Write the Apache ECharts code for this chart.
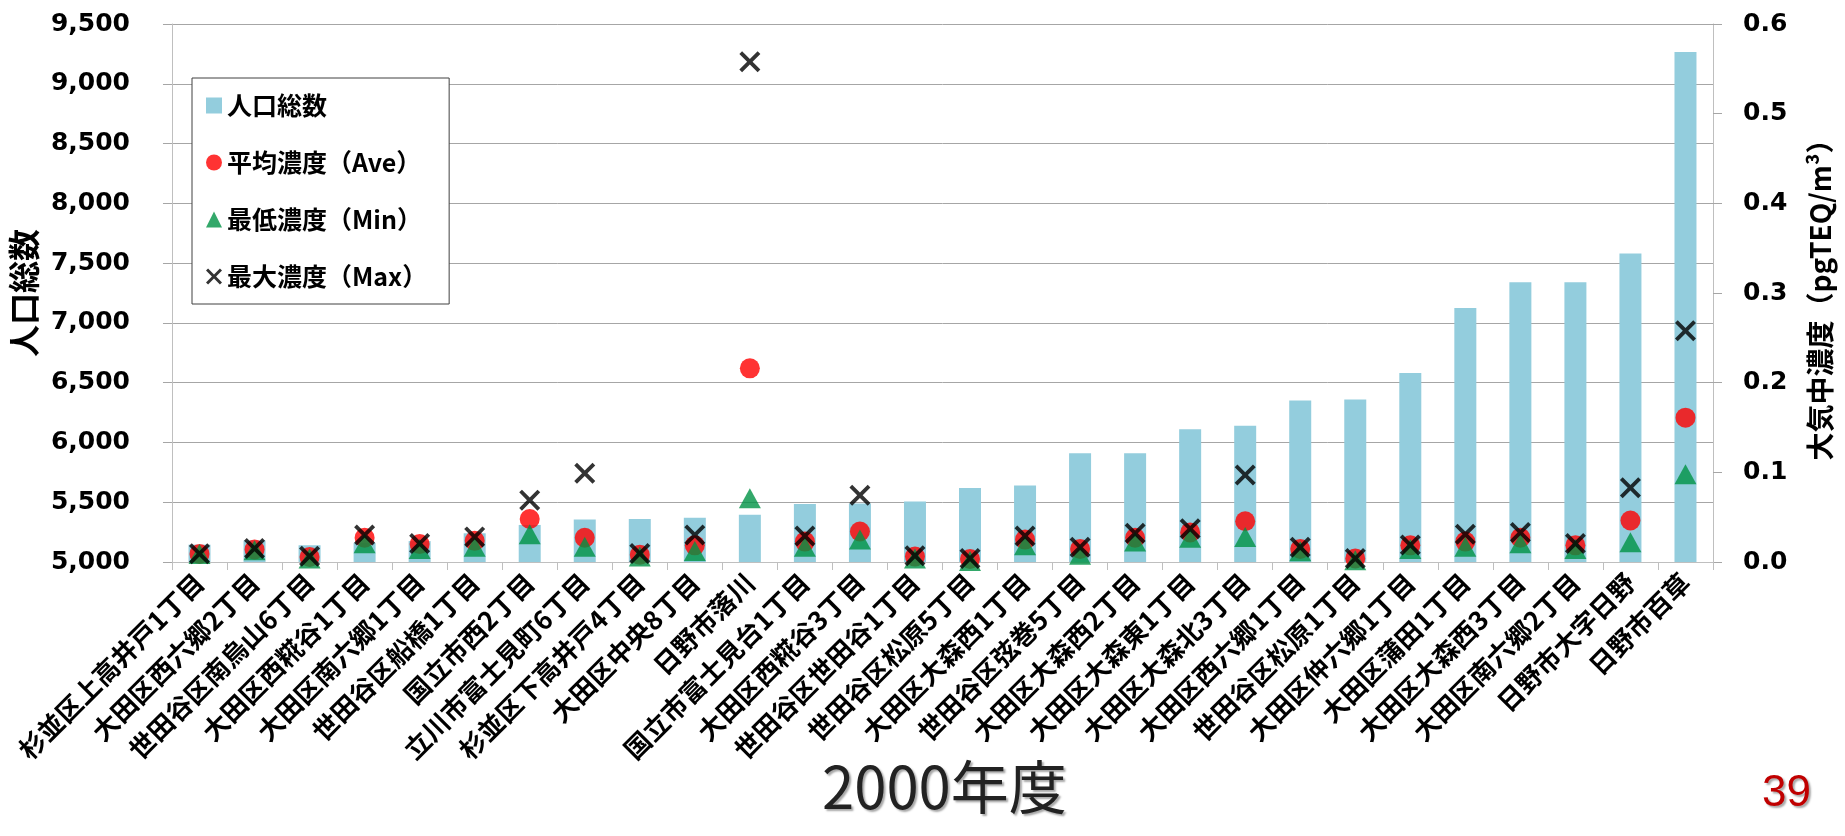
<!DOCTYPE html>
<html>
<head>
<meta charset="utf-8">
<script src="https://cdn.jsdelivr.net/npm/echarts@6/dist/echarts.min.js"></script>
<style>
  html, body { margin: 0; padding: 0; background: #fff; }
  #main { width: 1845px; height: 836px; }
</style>
</head>
<body>
<div id="main"></div>
<script>
// 地点（人口総数の少ない順）
var categories = [
  '杉並区上高井戸1丁目', '大田区西六郷2丁目', '世田谷区南烏山6丁目', '大田区西糀谷1丁目',
  '大田区南六郷1丁目', '世田谷区船橋1丁目', '国立市西2丁目', '立川市富士見町6丁目',
  '杉並区下高井戸4丁目', '大田区中央8丁目', '日野市落川', '国立市富士見台1丁目',
  '大田区西糀谷3丁目', '世田谷区世田谷1丁目', '世田谷区松原5丁目', '大田区大森西1丁目',
  '世田谷区弦巻5丁目', '大田区大森西2丁目', '大田区大森東1丁目', '大田区大森北3丁目',
  '大田区西六郷1丁目', '世田谷区松原1丁目', '大田区仲六郷1丁目', '大田区蒲田1丁目',
  '大田区大森西3丁目', '大田区南六郷2丁目', '日野市大字日野', '日野市百草'
];

// 人口総数（左軸）
var population = [
  5145, 5180, 5140, 5160, 5175, 5240, 5310, 5355, 5360, 5370,
  5395, 5485, 5490, 5505, 5620, 5640, 5910, 5910, 6110, 6140,
  6350, 6360, 6580, 7125, 7340, 7340, 7580, 9265
];

// 大気中濃度 pgTEQ/m3（右軸）
var aveConc = [
  0.009, 0.014, 0.0056, 0.027, 0.020, 0.0236, 0.048, 0.027, 0.008, 0.0186,
  0.216, 0.0228, 0.034, 0.006, 0.0033, 0.025, 0.0145, 0.027, 0.033, 0.0455,
  0.0145, 0.004, 0.0186, 0.0228, 0.027, 0.0186, 0.0463, 0.161
];
var minConc = [
  0.009, 0.013, 0.004, 0.021, 0.0145, 0.017, 0.031, 0.017, 0.006, 0.0124,
  0.071, 0.017, 0.025, 0.004, 0.001, 0.0186, 0.008, 0.023, 0.027, 0.028,
  0.012, 0.002, 0.0145, 0.017, 0.021, 0.0145, 0.022, 0.098
];
var maxConc = [
  0.0093, 0.015, 0.0063, 0.030, 0.0207, 0.028, 0.069, 0.099, 0.0095, 0.030,
  0.558, 0.029, 0.0745, 0.007, 0.004, 0.029, 0.0165, 0.032, 0.037, 0.097,
  0.0165, 0.004, 0.019, 0.031, 0.033, 0.0207, 0.0827, 0.258
];

var leftTicks = { min: 5000, max: 9500, interval: 500 };
var rightTicks = { min: 0, max: 0.6, interval: 0.1 };

// ×印（塗りつぶしの多角形）
var crossPath = 'path://M0,2.6L2.6,0L10,7.4L17.4,0L20,2.6L12.6,10L20,17.4L17.4,20L10,12.6L2.6,20L0,17.4L7.4,10Z';

var cjk = '"Noto Sans CJK JP", "Noto Sans", sans-serif';
var num = '"DejaVu Sans", "Noto Sans", sans-serif';

var chart = echarts.init(document.getElementById('main'), null, { renderer: 'canvas' });

var option = {
  animation: false,
  backgroundColor: '#ffffff',
  grid: {
    left: 167,
    right: 132,
    top: 24,
    bottom: 274
  },
  legend: {
    orient: 'vertical',
    left: 192,
    top: 78,
    itemWidth: 16,
    itemHeight: 16,
    itemGap: 32,
    padding: [15, 22, 15, 14],
    borderColor: '#404040',
    borderWidth: 1,
    backgroundColor: '#ffffff',
    textStyle: {
      fontFamily: cjk,
      fontSize: 25,
      fontWeight: 'bold',
      color: '#000',
      lineHeight: 24
    },
    data: [
      { name: '人口総数', icon: 'rect' },
      { name: '平均濃度（Ave）' },
      { name: '最低濃度（Min）' },
      { name: '最大濃度（Max）' }
    ]
  },
  xAxis: {
    type: 'category',
    data: categories,
    axisLine: { lineStyle: { color: '#BFBFBF', width: 1 } },
    axisTick: { show: true, length: 8, lineStyle: { color: '#BFBFBF' } },
    axisLabel: {
      interval: 0,
      rotate: 45,
      margin: 16,
      fontFamily: cjk,
      fontSize: 26,
      fontWeight: 'bold',
      color: '#000'
    }
  },
  yAxis: [
    {
      type: 'value',
      position: 'left',
      min: leftTicks.min,
      max: leftTicks.max,
      interval: leftTicks.interval,
      name: '人口総数',
      nameLocation: 'middle',
      nameGap: 124,
      nameTextStyle: { fontFamily: cjk, fontSize: 32, fontWeight: 'bold', color: '#000' },
      axisLine: { show: true, lineStyle: { color: '#BFBFBF' } },
      axisTick: { show: true, length: 9, lineStyle: { color: '#A6A6A6' } },
      splitLine: { show: true, lineStyle: { color: '#A6A6A6', width: 1 } },
      axisLabel: {
        margin: 42,
        fontFamily: num,
        fontSize: 25,
        fontWeight: 'bold',
        color: '#000',
        formatter: function (v) { return v.toLocaleString('en-US'); }
      }
    },
    {
      type: 'value',
      position: 'right',
      min: rightTicks.min,
      max: rightTicks.max,
      interval: rightTicks.interval,
      name: '大気中濃度（pgTEQ/m³）',
      nameLocation: 'middle',
      nameGap: 93,
      nameTextStyle: { fontFamily: cjk, fontSize: 28, fontWeight: 'bold', color: '#000' },
      axisLine: { show: true, lineStyle: { color: '#BFBFBF' } },
      axisTick: { show: true, length: 9, lineStyle: { color: '#A6A6A6' } },
      splitLine: { show: false },
      axisLabel: {
        margin: 30,
        fontFamily: num,
        fontSize: 25,
        fontWeight: 'bold',
        color: '#000',
        formatter: function (v) { return v.toFixed(1); }
      }
    }
  ],
  series: [
    {
      name: '人口総数',
      type: 'bar',
      yAxisIndex: 0,
      barWidth: 22,
      itemStyle: { color: '#93CDDD' },
      data: population
    },
    {
      name: '平均濃度（Ave）',
      type: 'scatter',
      yAxisIndex: 1,
      symbol: 'circle',
      symbolSize: 20,
      itemStyle: { color: '#FF0000' },
      data: aveConc
    },
    {
      name: '最低濃度（Min）',
      type: 'scatter',
      yAxisIndex: 1,
      symbol: 'triangle',
      symbolSize: [22, 20],
      itemStyle: { color: '#009245' },
      data: minConc
    },
    {
      name: '最大濃度（Max）',
      type: 'scatter',
      yAxisIndex: 1,
      symbol: crossPath,
      symbolSize: 21,
      itemStyle: { color: '#000000' },
      data: maxConc
    }
  ],
  graphic: [
    {
      type: 'text',
      left: 822,
      top: 758,
      style: {
        text: '2000年度',
        font: 'normal 58px "Noto Sans CJK JP", sans-serif',
        fill: '#222222',
        textShadowColor: 'rgba(0,0,0,0.35)',
        textShadowBlur: 2,
        textShadowOffsetX: 2,
        textShadowOffsetY: 2
      }
    },
    {
      type: 'text',
      left: 1762,
      top: 772,
      style: {
        text: '39',
        font: 'normal 44px "Liberation Sans Narrow", "Arial Narrow", sans-serif',
        fill: '#C00000',
        textShadowColor: 'rgba(0,0,0,0.35)',
        textShadowBlur: 2,
        textShadowOffsetX: 2,
        textShadowOffsetY: 2
      }
    }
  ]
};

chart.setOption(option);
</script>
</body>
</html>
